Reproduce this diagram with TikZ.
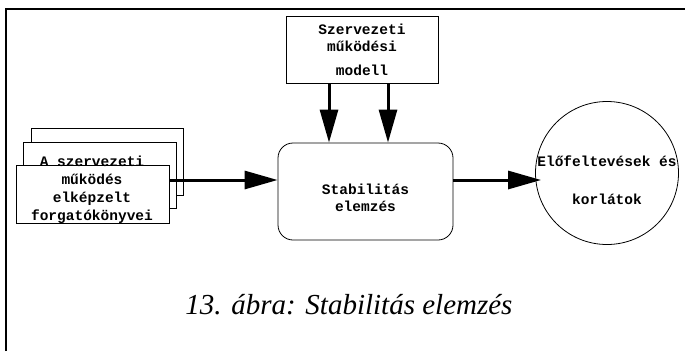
\documentclass[tikz,border=0pt]{standalone}
\usepackage{fontspec}
\setmainfont{Liberation Serif}
\newfontfamily\courfont{Liberation Mono}
\usetikzlibrary{arrows.meta, positioning}

\begin{document}
\begin{tikzpicture}[x=1pt, y=-1pt,
  box/.style={draw, line width=0.8pt, fill=white, inner sep=0pt},
  mono/.style={font=\courfont\bfseries\fontsize{14.5}{17}\selectfont, align=center, inner sep=0pt},
  arr/.style={line width=3pt, -{Triangle[length=33pt,width=18pt]}}]
\useasboundingbox (0,0) rectangle (685,351);
\draw[line width=2pt] (6,351) -- (6,9) -- (685,9);
\coordinate (lvl) at (0,180);
\node[box, mono, minimum width=152, minimum height=67] (model) at (362,49.5) {Szervezeti\\működési\\[7pt]modell};
\node[box, rounded corners=15pt, minimum width=175, minimum height=97] (stab) at (365.5,191.5) {};
\node[mono] (stabtxt) at (365.5,198) {Stabilitás\\elemzés};
\node[box, minimum width=152, minimum height=67] (card3) at (107,161.5) {};
\node[box, minimum width=153, minimum height=66] (card2) at (99.5,175) {};
\node[box, minimum width=153, minimum height=58] (card1) at (92.5,194) {};
\node[mono, font=\courfont\bfseries\fontsize{14.5}{18}\selectfont] (scen) at (92,189.5) {A szervezeti\\működés\\ elképzelt\\forgatókönyvei};
\node[draw, circle, line width=0.8pt, minimum size=143, inner sep=0pt] (elofelt) at (607,173) {};
\node[mono] (elofelttxt) at (607,180) {Előfeltevések és\\[21pt]korlátok};
\draw[arr] ([xshift=-33pt]model.south) -- ([xshift=-33pt]model.south |- stab.north);
\draw[arr] ([xshift=26pt]model.south) -- ([xshift=26pt]model.south |- stab.north);
\draw[arr] (card1.east |- lvl) -- (stab.west |- lvl);
\draw[arr, shorten >=-6pt] (stab.east |- lvl) -- (elofelt.west |- lvl);
\node[font=\itshape\fontsize{29}{34}\selectfont] (caption) at (349,305) {13. ábra: Stabilitás elemzés};
\end{tikzpicture}
\end{document}
